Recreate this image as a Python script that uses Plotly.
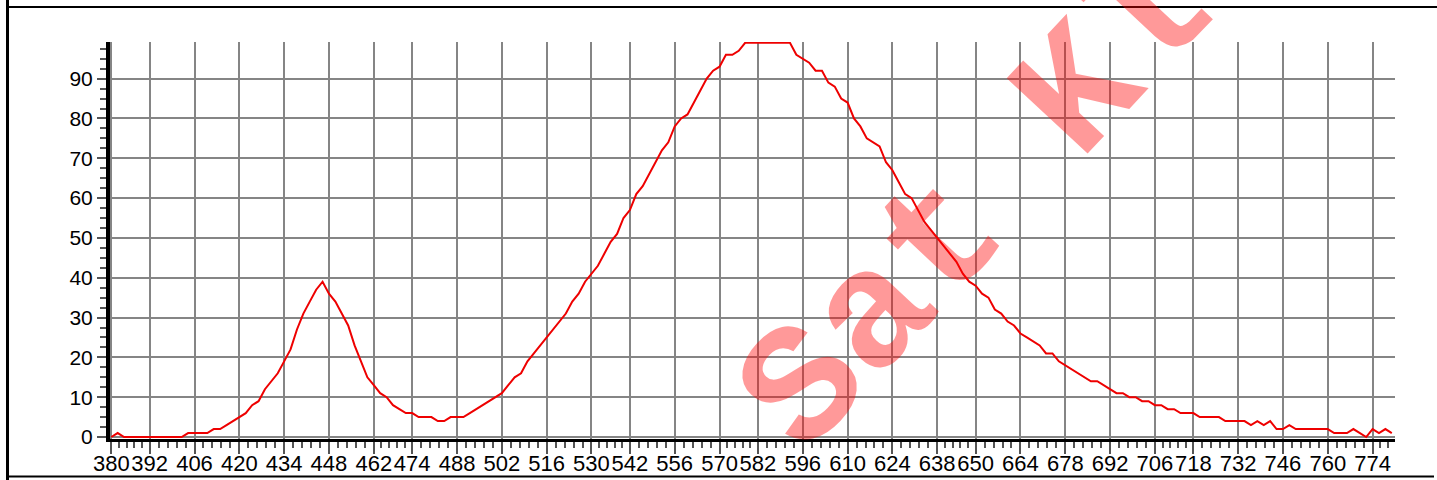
import plotly.graph_objects as go

# ---- data ----
wavelength_start = 380
wavelength_step = 2
intensity = [
    0, 1, 0, 0, 0, 0, 0, 0, 0, 0,          # 380-398
    0, 0, 1, 1, 1, 1, 2, 2, 3, 4,          # 400-418
    5, 6, 8, 9, 12, 14, 16, 19, 22, 27,    # 420-438
    31, 34, 37, 39, 36, 34, 31, 28, 23, 19,  # 440-458
    15, 13, 11, 10, 8, 7, 6, 6, 5, 5,      # 460-478
    5, 4, 4, 5, 5, 5, 6, 7, 8, 9,          # 480-498
    10, 11, 13, 15, 16, 19, 21, 23, 25, 27,  # 500-518
    29, 31, 34, 36, 39, 41, 43, 46, 49, 51,  # 520-538
    55, 57, 61, 63, 66, 69, 72, 74, 78, 80,  # 540-558
    81, 84, 87, 90, 92, 93, 96, 96, 97, 99,  # 560-578
    99, 99, 99, 99, 99, 99, 99, 96, 95, 94,  # 580-598
    92, 92, 89, 88, 85, 84, 80, 78, 75, 74,  # 600-618
    73, 69, 67, 64, 61, 60, 57, 54, 52, 50,  # 620-638
    48, 46, 44, 41, 39, 38, 36, 35, 32, 31,  # 640-658
    29, 28, 26, 25, 24, 23, 21, 21, 19, 18,  # 660-678
    17, 16, 15, 14, 14, 13, 12, 11, 11, 10,  # 680-698
    10, 9, 9, 8, 8, 7, 7, 6, 6, 6,         # 700-718
    5, 5, 5, 5, 4, 4, 4, 4, 3, 4,          # 720-738
    3, 4, 2, 2, 3, 2, 2, 2, 2, 2,          # 740-758
    2, 1, 1, 1, 2, 1, 0, 2, 1, 2,          # 760-778
    1,                                      # 780
]
wavelengths = [wavelength_start + i * wavelength_step for i in range(len(intensity))]

x_tick_values = [380, 392, 406, 420, 434, 448, 462, 474, 488, 502, 516, 530, 542,
                 556, 570, 582, 596, 610, 624, 638, 650, 664, 678, 692, 706, 718,
                 732, 746, 760, 774]
y_tick_values = [0, 10, 20, 30, 40, 50, 60, 70, 80, 90]
watermark_text = "Sat Kl"

# minor ticks: 4 between each pair of major ticks
x_minor = []
for a, b in zip(x_tick_values[:-1], x_tick_values[1:]):
    x_minor += [a + (b - a) * k / 5 for k in range(1, 5)]
x_minor += [774 + 2.4 * k for k in range(1, 3)]

W, H = 1437, 480
L, R, T, B = 110, 42, 42, 41
PW, PH = W - L - R, H - T - B


def px(x):
    return (x - L) / PW


def py(y):
    return (H - B - y) / PH


fig = go.Figure()
fig.add_trace(go.Scatter(
    x=wavelengths, y=intensity, mode="lines",
    line=dict(color="#ee0000", width=2),
    hoverinfo="x+y", showlegend=False,
))

fig.add_annotation(
    xref="paper", yref="paper", x=px(978), y=py(205),
    text=watermark_text, showarrow=False, textangle=-47,
    xanchor="center", yanchor="middle",
    font=dict(family="Liberation Mono", size=168, color="rgba(255,0,0,0.4)", weight="bold"),
)

# frame lines
frame = dict(type="line", xref="paper", yref="paper", layer="above")
fig.add_shape(**frame, x0=px(7.5), x1=px(7.5), y0=py(0), y1=py(480), line=dict(color="black", width=3))
fig.add_shape(**frame, x0=px(6), x1=px(1437), y0=py(7), y1=py(7), line=dict(color="black", width=2))
fig.add_shape(**frame, x0=px(6), x1=px(1434), y0=py(476.5), y1=py(476.5), line=dict(color="black", width=2))

fig.update_layout(
    width=W, height=H,
    margin=dict(l=L, r=R, t=T, b=B, autoexpand=False),
    paper_bgcolor="white", plot_bgcolor="white",
    font=dict(family="Liberation Sans", size=21, color="black"),
    xaxis=dict(
        range=[379.6, 781], tickmode="array", tickvals=x_tick_values,
        ticktext=[str(v) for v in x_tick_values], tickangle=0, automargin=False,
        tickfont=dict(size=22),
        showgrid=True, gridcolor="#858585", gridwidth=2,
        showline=True, linecolor="black", linewidth=3, zeroline=False,
        ticks="outside", ticklen=12, tickwidth=2, tickcolor="#555",
        minor=dict(tickmode="array", tickvals=x_minor, ticks="outside",
                   ticklen=6, tickwidth=2, tickcolor="#555", showgrid=False),
        ticklabelstandoff=-9,
    ),
    yaxis=dict(
        range=[-0.5, 99.2], tickmode="array", tickvals=y_tick_values, automargin=False,
        showgrid=True, gridcolor="#858585", gridwidth=2,
        showline=True, linecolor="black", linewidth=4, zeroline=False,
        ticks="outside", ticklen=9, tickwidth=2, tickcolor="#555",
        minor=dict(dtick=2.5, tick0=0, ticks="outside", ticklen=6,
                   tickwidth=2, tickcolor="#555", showgrid=False),
    ),
)

fig.write_html(
    "out.html",
    config={"displayModeBar": False},
    post_script="document.body.style.margin='0';document.body.style.overflow='hidden';",
)
